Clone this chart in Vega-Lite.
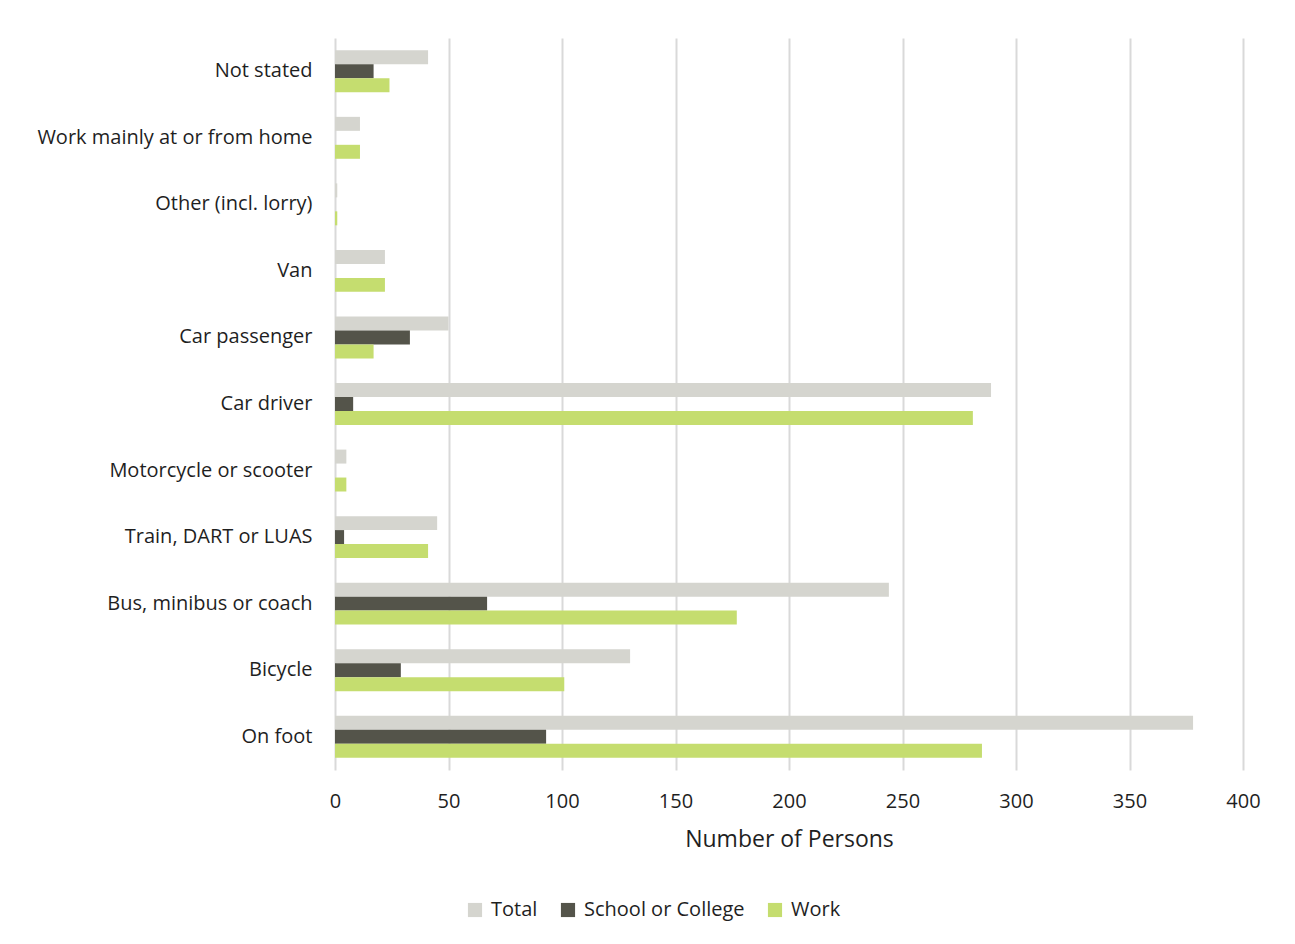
{
  "$schema": "https://vega.github.io/schema/vega-lite/v6.json",
  "autosize": {"type": "none"},
  "width": 908,
  "height": 732,
  "padding": {"left": 335, "top": 38, "right": 52, "bottom": 174},
  "background": "#ffffff",
  "data": {
    "values": [
      {"mode": "Not stated", "group": "Total", "persons": 41},
      {"mode": "Not stated", "group": "School or College", "persons": 17},
      {"mode": "Not stated", "group": "Work", "persons": 24},
      {"mode": "Work mainly at or from home", "group": "Total", "persons": 11},
      {"mode": "Work mainly at or from home", "group": "School or College", "persons": 0},
      {"mode": "Work mainly at or from home", "group": "Work", "persons": 11},
      {"mode": "Other (incl. lorry)", "group": "Total", "persons": 1},
      {"mode": "Other (incl. lorry)", "group": "School or College", "persons": 0},
      {"mode": "Other (incl. lorry)", "group": "Work", "persons": 1},
      {"mode": "Van", "group": "Total", "persons": 22},
      {"mode": "Van", "group": "School or College", "persons": 0},
      {"mode": "Van", "group": "Work", "persons": 22},
      {"mode": "Car passenger", "group": "Total", "persons": 50},
      {"mode": "Car passenger", "group": "School or College", "persons": 33},
      {"mode": "Car passenger", "group": "Work", "persons": 17},
      {"mode": "Car driver", "group": "Total", "persons": 289},
      {"mode": "Car driver", "group": "School or College", "persons": 8},
      {"mode": "Car driver", "group": "Work", "persons": 281},
      {"mode": "Motorcycle or scooter", "group": "Total", "persons": 5},
      {"mode": "Motorcycle or scooter", "group": "School or College", "persons": 0},
      {"mode": "Motorcycle or scooter", "group": "Work", "persons": 5},
      {"mode": "Train, DART or LUAS", "group": "Total", "persons": 45},
      {"mode": "Train, DART or LUAS", "group": "School or College", "persons": 4},
      {"mode": "Train, DART or LUAS", "group": "Work", "persons": 41},
      {"mode": "Bus, minibus or coach", "group": "Total", "persons": 244},
      {"mode": "Bus, minibus or coach", "group": "School or College", "persons": 67},
      {"mode": "Bus, minibus or coach", "group": "Work", "persons": 177},
      {"mode": "Bicycle", "group": "Total", "persons": 130},
      {"mode": "Bicycle", "group": "School or College", "persons": 29},
      {"mode": "Bicycle", "group": "Work", "persons": 101},
      {"mode": "On foot", "group": "Total", "persons": 378},
      {"mode": "On foot", "group": "School or College", "persons": 93},
      {"mode": "On foot", "group": "Work", "persons": 285}
    ]
  },
  "mark": {"type": "bar"},
  "encoding": {
    "y": {
      "field": "mode",
      "type": "nominal",
      "sort": null,
      "scale": {"paddingInner": 0.37, "paddingOuter": 0.185},
      "axis": {
        "title": null,
        "ticks": false,
        "domain": false,
        "labelPadding": 23,
        "labelFontSize": 20,
        "labelFont": "Open Sans",
        "labelColor": "#1f1f1f",
        "labelLimit": 400
      }
    },
    "yOffset": {
      "field": "group",
      "type": "nominal",
      "sort": ["Total", "School or College", "Work"]
    },
    "x": {
      "field": "persons",
      "type": "quantitative",
      "scale": {"domain": [0, 400], "nice": false},
      "axis": {
        "title": "Number of Persons",
        "values": [0, 50, 100, 150, 200, 250, 300, 350, 400],
        "ticks": false,
        "domain": false,
        "grid": true,
        "gridColor": "#d9d9d9",
        "gridWidth": 2,
        "labelFlush": false,
        "labelPadding": 21,
        "labelFontSize": 20,
        "labelFont": "Open Sans",
        "labelColor": "#1f1f1f",
        "titleFont": "Open Sans",
        "titleFontSize": 23,
        "titleFontWeight": "normal",
        "titleColor": "#1f1f1f",
        "titlePadding": 17
      }
    },
    "color": {
      "field": "group",
      "type": "nominal",
      "sort": ["Total", "School or College", "Work"],
      "scale": {
        "domain": ["Total", "School or College", "Work"],
        "range": ["#d5d5cf", "#54544a", "#c5dd6f"]
      },
      "legend": {
        "title": null,
        "orient": "none",
        "direction": "horizontal",
        "legendX": 130,
        "legendY": 862,
        "symbolType": "square",
        "symbolSize": 200,
        "symbolStrokeWidth": 0,
        "labelFont": "Open Sans",
        "labelFontSize": 20,
        "labelColor": "#1f1f1f",
        "labelLimit": 400,
        "columnPadding": 20,
        "labelOffset": 6
      }
    }
  },
  "config": {
    "view": {"stroke": null}
  }
}
